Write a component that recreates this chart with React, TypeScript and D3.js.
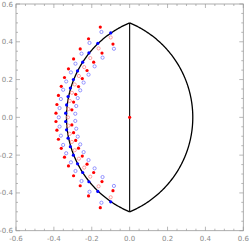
import React from "react";
import * as d3 from "d3";

const W = 249;
const H = 244;

const axisDomain = [-0.6, 0.6];
const majorTicks = [-0.6, -0.4, -0.2, 0, 0.2, 0.4, 0.6];
const tickLabels = ["-0.6", "-0.4", "-0.2", "0.0", "0.2", "0.4", "0.6"];
const minorStep = 0.05;

// lens boundary: apexes at (0, ±lensHalfHeight), widest at (±lensHalfWidth, 0)
const lensHalfHeight = 0.5;
const lensHalfWidth = 1 / 3;

// red filled points, outer arc
const redOuterX = [-0.155, -0.217, -0.261, -0.296, -0.323, -0.344, -0.361, -0.376, -0.384, -0.389,
  -0.389, -0.384, -0.376, -0.361, -0.344, -0.323, -0.296, -0.261, -0.217, -0.155];
const redOuterY = [0.478, 0.416, 0.362, 0.309, 0.257, 0.211, 0.164, 0.116, 0.068, 0.022,
  -0.022, -0.068, -0.116, -0.164, -0.211, -0.257, -0.309, -0.362, -0.416, -0.478];

// red filled points, inner arc
const redInnerX = [-0.088, -0.146, -0.19, -0.225, -0.25, -0.27, -0.285, -0.296, -0.305,
  -0.305, -0.296, -0.285, -0.27, -0.25, -0.225, -0.19, -0.146, -0.088];
const redInnerY = [0.388, 0.34, 0.292, 0.248, 0.205, 0.163, 0.122, 0.081, 0.04,
  -0.04, -0.081, -0.122, -0.163, -0.205, -0.248, -0.292, -0.34, -0.388];

// blue open circles, outer arc
const blueOpenOuterX = [-0.149, -0.212, -0.254, -0.286, -0.31, -0.335, -0.351, -0.363, -0.37, -0.374,
  -0.37, -0.363, -0.351, -0.335, -0.31, -0.286, -0.254, -0.212, -0.149];
const blueOpenOuterY = [0.452, 0.394, 0.337, 0.284, 0.238, 0.19, 0.146, 0.097, 0.049, 0.0,
  -0.049, -0.097, -0.146, -0.19, -0.238, -0.284, -0.337, -0.394, -0.452];

// blue open circles, inner arc
const blueOpenInnerX = [-0.083, -0.143, -0.185, -0.217, -0.243, -0.261, -0.274, -0.282, -0.287,
  -0.287, -0.282, -0.274, -0.261, -0.243, -0.217, -0.185, -0.143, -0.083];
const blueOpenInnerY = [0.363, 0.316, 0.27, 0.226, 0.184, 0.143, 0.102, 0.06, 0.019,
  -0.019, -0.06, -0.102, -0.143, -0.184, -0.226, -0.27, -0.316, -0.363];

// blue filled points (on the curve)
const blueFilledX = [-0.1, -0.168, -0.215, -0.248, -0.275, -0.297, -0.313, -0.325, -0.333, -0.338,
  -0.338, -0.333, -0.325, -0.313, -0.297, -0.275, -0.248, -0.215, -0.168, -0.1];
const blueFilledY = [0.447, 0.392, 0.341, 0.292, 0.246, 0.2, 0.155, 0.11, 0.066, 0.022,
  -0.022, -0.066, -0.11, -0.155, -0.2, -0.246, -0.292, -0.341, -0.392, -0.447];

// red open circles (near the curve)
const redOpenX = [-0.1, -0.164, -0.208, -0.24, -0.268, -0.29, -0.305, -0.316, -0.323, -0.326,
  -0.323, -0.316, -0.305, -0.29, -0.268, -0.24, -0.208, -0.164, -0.1];
const redOpenY = [0.423, 0.365, 0.314, 0.266, 0.219, 0.174, 0.13, 0.087, 0.044, 0.0,
  -0.044, -0.087, -0.13, -0.174, -0.219, -0.266, -0.314, -0.365, -0.423];

// center point
const centerX = [0];
const centerY = [0];

const zip = (xs: number[], ys: number[]) => xs.map((x, i) => [x, ys[i]] as [number, number]);

export default function App() {
  const left = 16, right = 243.3, top = 4, bottom = 230.7;
  const x = d3.scaleLinear().domain(axisDomain).range([left, right]);
  const y = d3.scaleLinear().domain(axisDomain).range([bottom, top]);

  // circle arcs through (0, ±h) and (±w, 0)
  const h = lensHalfHeight, w = lensHalfWidth;
  const c = (w * w - h * h) / (2 * w);
  const r = w - c;
  const t0 = Math.atan2(h, -c);
  const thetas = d3.range(0, 201).map((i) => -t0 + (2 * t0 * i) / 200);
  const rightArc = thetas.map((t) => [c + r * Math.cos(t), r * Math.sin(t)] as [number, number]);
  const leftArc = thetas.map((t) => [-(c + r * Math.cos(t)), r * Math.sin(t)] as [number, number]);
  const line = d3.line<[number, number]>().x((d) => x(d[0])).y((d) => y(d[1]));

  const minorTicks = d3.range(0, Math.round((axisDomain[1] - axisDomain[0]) / minorStep) + 1)
    .map((i) => axisDomain[0] + i * minorStep);

  const frameColor = "#9a9a9a";
  const labelColor = "#8a8a8a";
  const font = "'DejaVu Sans', sans-serif";

  return (
    <svg width={W} height={H} style={{ position: "absolute", left: 0, top: 0, background: "#fff" }}>
      <rect x={0} y={0} width={W} height={H} fill="#fff" />
      {/* frame */}
      <rect x={left} y={top} width={right - left} height={bottom - top} fill="none" stroke={frameColor} strokeWidth={0.8} />
      {minorTicks.map((t, i) => {
        const isMajor = majorTicks.some((m) => Math.abs(m - t) < 1e-9);
        const len = isMajor ? 4 : 2;
        return (
          <g key={"t" + i} stroke={frameColor} strokeWidth={0.7}>
            <line x1={x(t)} x2={x(t)} y1={bottom} y2={bottom - len} />
            <line x1={x(t)} x2={x(t)} y1={top} y2={top + len} />
            <line x1={left} x2={left + len} y1={y(t)} y2={y(t)} />
            <line x1={right} x2={right - len} y1={y(t)} y2={y(t)} />
          </g>
        );
      })}
      {majorTicks.map((t, i) => (
        <text key={"xl" + i} x={x(t)} y={bottom + 10.5} textAnchor="middle" fontSize={7} fontFamily={font} fill={labelColor}>
          {tickLabels[i]}
        </text>
      ))}
      {majorTicks.map((t, i) => (
        <text key={"yl" + i} x={left - 3} y={y(t) + 2.5} textAnchor="end" fontSize={7} fontFamily={font} fill={labelColor}>
          {tickLabels[i]}
        </text>
      ))}

      {/* lens curve */}
      <path d={line(rightArc) || ""} fill="none" stroke="#000" strokeWidth={1.3} />
      <path d={line(leftArc) || ""} fill="none" stroke="#000" strokeWidth={1.3} />
      <line x1={x(0)} x2={x(0)} y1={y(lensHalfHeight)} y2={y(-lensHalfHeight)} stroke="#000" strokeWidth={1.1} />

      {/* open circles */}
      {zip(blueOpenOuterX, blueOpenOuterY).concat(zip(blueOpenInnerX, blueOpenInnerY)).map((d, i) => (
        <circle key={"bo" + i} cx={x(d[0])} cy={y(d[1])} r={1.6} fill="none" stroke="#7b7bff" strokeWidth={0.8} />
      ))}
      {zip(redOpenX, redOpenY).map((d, i) => (
        <circle key={"ro" + i} cx={x(d[0])} cy={y(d[1])} r={1.6} fill="none" stroke="#ff8a8a" strokeWidth={0.8} />
      ))}
      {/* filled points */}
      {zip(blueFilledX, blueFilledY).map((d, i) => (
        <circle key={"bf" + i} cx={x(d[0])} cy={y(d[1])} r={1.6} fill="#0000ff" />
      ))}
      {zip(redOuterX, redOuterY).concat(zip(redInnerX, redInnerY)).concat(zip(centerX, centerY)).map((d, i) => (
        <circle key={"rf" + i} cx={x(d[0])} cy={y(d[1])} r={1.6} fill="#ff0000" />
      ))}
    </svg>
  );
}
